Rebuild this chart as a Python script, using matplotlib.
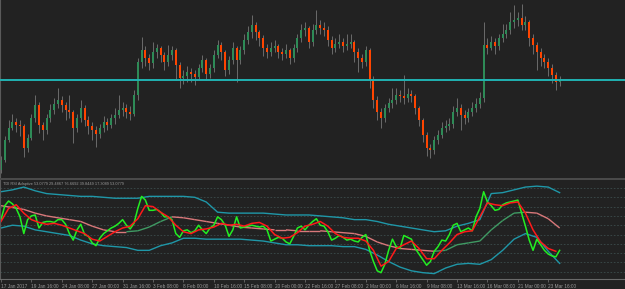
import numpy as np
import matplotlib.pyplot as plt
from matplotlib.collections import LineCollection

# --- price bars (points above 1.0500) ---
close_pts = [20, 40, 52, 58, 55, 54, 32, 42, 62, 75,
             55, 50, 62, 70, 76, 80, 75, 70, 68, 52,
             62, 72, 60, 54, 50, 46, 52, 58, 55, 62,
             65, 70, 72, 68, 66, 85, 118, 130, 122, 117,
             128, 132, 125, 118, 125, 130, 115, 102, 104, 108,
             106, 103, 112, 120, 106, 112, 125, 135, 128, 110,
             120, 132, 120, 130, 140, 148, 155, 148, 142, 132,
             128, 132, 134, 128, 126, 130, 122, 132, 142, 150,
             152, 138, 150, 155, 152, 150, 140, 132, 136, 138,
             134, 136, 138, 128, 122, 118, 130, 100, 80, 68,
             62, 72, 77, 80, 85, 84, 82, 86, 84, 72,
             60, 45, 32, 30, 40, 45, 52, 54, 56, 68,
             72, 65, 62, 68, 72, 76, 82, 135, 132, 138,
             134, 142, 146, 150, 158, 160, 162, 155, 158, 142,
             135, 128, 122, 118, 112, 105, 98, 100]
high_pts = [24, 44, 60, 66, 62, 60, 56, 46, 66, 85,
            78, 58, 66, 76, 82, 92, 84, 78, 85, 70,
            66, 80, 75, 64, 58, 54, 56, 64, 62, 66,
            72, 85, 78, 76, 74, 90, 122, 143, 134, 126,
            138, 136, 134, 128, 135, 134, 132, 118, 110, 114,
            112, 110, 116, 125, 122, 116, 130, 140, 138, 130,
            124, 138, 134, 134, 146, 154, 165, 158, 150, 145,
            136, 138, 140, 136, 132, 136, 132, 136, 146, 156,
            158, 154, 156, 170, 160, 158, 154, 144, 142, 146,
            142, 146, 146, 140, 132, 126, 134, 132, 104, 84,
            72, 76, 82, 92, 92, 90, 105, 92, 90, 86,
            74, 62, 48, 36, 44, 50, 58, 60, 62, 74,
            82, 76, 70, 72, 78, 82, 88, 158, 142, 144,
            142, 146, 156, 156, 168, 175, 168, 176, 164, 160,
            146, 138, 132, 126, 122, 116, 108, 104]
low_pts = [7, 18, 38, 50, 48, 44, 23, 28, 40, 58,
           47, 40, 46, 58, 66, 72, 68, 60, 62, 37,
           48, 58, 54, 46, 40, 33, 42, 48, 50, 52,
           56, 62, 64, 62, 60, 64, 80, 112, 114, 110,
           112, 122, 118, 110, 114, 120, 100, 92, 96, 98,
           98, 95, 100, 108, 100, 102, 108, 122, 120, 104,
           106, 116, 98, 116, 126, 136, 142, 140, 134, 124,
           122, 124, 128, 122, 120, 122, 116, 118, 128, 138,
           144, 132, 134, 146, 146, 144, 134, 126, 128, 132,
           128, 130, 132, 118, 108, 112, 114, 92, 72, 60,
           52, 58, 68, 72, 76, 78, 76, 78, 78, 66,
           54, 38, 24, 22, 26, 36, 42, 48, 50, 52,
           64, 50, 56, 58, 64, 68, 72, 78, 126, 130,
           126, 130, 138, 142, 146, 152, 154, 150, 150, 134,
           126, 110, 114, 112, 104, 97, 90, 94]
first_open_pts = 10
level_line = 1.0600

# --- TDI RSI Adaptive ---
rsi = [56, 71, 76, 73, 68, 59, 41, 56, 60, 61,
       47, 53, 54, 54, 53, 56, 56, 51, 41, 34,
       45, 51, 40, 38, 31, 28, 36, 41, 44, 47,
       49, 52, 56, 50, 46, 52, 68, 81, 77, 66,
       66, 67, 64, 59, 59, 56, 41, 37, 44, 45,
       42, 44, 50, 45, 41, 47, 50, 59, 56, 50,
       38, 45, 59, 47, 48, 49, 50, 49, 48, 49,
       45, 33, 35, 37, 36, 32, 30, 38, 47, 49,
       45, 50, 54, 57, 50, 49, 43, 34, 36, 39,
       37, 34, 35, 33, 32, 37, 40, 23, 11, 1,
       -1, 8, 23, 35, 27, 25, 39, 37, 35, 25,
       19, 13, 7, 11, 22, 27, 34, 33, 40, 50,
       52, 43, 45, 47, 44, 59, 68, 86, 75, 71,
       66, 67, 72, 74, 75, 76, 77, 63, 49, 34,
       23, 35, 29, 23, 19, 17, 16, 23]
signal = [54, 68, 72, 63, 56, 53, 51, 52, 50, 47,
          44, 41, 35, 33, 38, 43, 47, 49, 57, 71,
          70, 64, 59, 50, 43, 41, 45, 46, 48, 52,
          50, 51, 49, 52, 53, 49, 40, 36, 37, 42,
          49, 51, 54, 49, 41, 37, 36, 36, 33, 23,
          6, 11, 25, 29, 33, 25, 14, 14, 23, 31,
          40, 43, 44, 59, 74, 72, 71, 74, 75, 63,
          45, 32, 25, 22]
band_up = [86, 88, 91, 87, 84, 83, 82, 81, 81, 80,
           79, 79, 79, 81, 81, 81, 81, 80, 75, 64,
           63, 63, 63, 63, 62, 61, 61, 61, 60, 59,
           58, 56, 56, 54, 51, 49, 47, 45, 43, 44,
           49, 52, 56, 84, 85, 88, 91, 92, 91, 85]
band_dn = [47, 50, 49, 45, 43, 41, 39, 34, 30, 28,
           27, 26, 23, 23, 28, 31, 36, 36, 35, 35,
           35, 35, 34, 33, 31, 29, 29, 28, 28, 28,
           27, 27, 24, 18, 11, 5, 1, -1, -2, 4,
           8, 9, 8, 13, 23, 35, 41, 37, 22, 9]
band_mid = [71, 69, 67, 63, 60, 58, 56, 54, 49, 45,
            43, 43, 44, 48, 54, 59, 58, 56, 54, 52,
            50, 48, 47, 46, 45, 45, 44, 44, 44, 43,
            42, 41, 38, 32, 28, 25, 24, 23, 22, 23,
            29, 31, 33, 45, 55, 63, 64, 63, 57, 47]
levels = [0, 10, 20, 30, 40, 50, 60, 70, 80, 90]
ind_title = "TDI RSI Adaptive 53.0779 29.4867 76.6692 39.8449 17.3089 53.0779"

time_labels = ["17 Jan 2017", "19 Jan 16:00", "24 Jan 08:00", "27 Jan 00:00",
               "31 Jan 16:00", "3 Feb 08:00", "8 Feb 00:00", "10 Feb 16:00",
               "15 Feb 08:00", "20 Feb 00:00", "22 Feb 16:00", "27 Feb 08:00",
               "2 Mar 00:00", "6 Mar 16:00", "9 Mar 08:00", "13 Mar 16:00",
               "16 Mar 08:00", "21 Mar 00:00", "23 Mar 16:00"]

BG = "#222222"
TXT = "#9a9a9a"
plt.rcParams["font.family"] = ["Liberation Sans", "DejaVu Sans"]

close = 1.05 + np.array(close_pts) / 1e4
high = 1.05 + np.array(high_pts) / 1e4
low = 1.05 + np.array(low_pts) / 1e4
opn = 1.05 + np.array([first_open_pts] + close_pts[:-1]) / 1e4
n = len(close)
x = np.arange(n)

fig = plt.figure(figsize=(6.25, 2.89), dpi=100, facecolor=BG)
H = 289.0
ax = fig.add_axes([0, (H - 178) / H, 1, 178 / H], facecolor=BG)
ax2 = fig.add_axes([0, (H - 279) / H, 1, 99 / H], facecolor=BG)
xlim = (-0.26, 164.2)

# candles
up = close >= opn
ax.vlines(x, low, high, color="#6b6b6b", lw=0.7, zorder=1)
body = np.maximum(np.abs(close - opn), 0.00008)
ax.bar(x[up], body[up], bottom=opn[up], width=0.55, color="#2e8b57", zorder=2)
ax.bar(x[~up], body[~up], bottom=close[~up], width=0.55, color="#ff4500", zorder=2)
ax.axhline(level_line, color="#20b2b2", lw=1.4, zorder=3)
ax.set_xlim(*xlim)
ax.set_ylim(1.0502, 1.0680)
ax.set_xticks([])
ax.set_yticks([])
for s in ax.spines.values():
    s.set_visible(False)
ax.spines["left"].set_visible(True)
ax.spines["left"].set_color("#5a5a5a")

# separator between panels
fig.add_artist(plt.Rectangle((0, (H - 180) / H), 1, 2 / H, transform=fig.transFigure,
                             color="#4a4a4a", lw=0))

# indicator panel
for lv in levels:
    ax2.axhline(lv, color="#3c4c4c", lw=0.6, ls=(0, (2, 2)), zorder=0)
bx = np.arange(0, n, 3)
ax2.plot(bx, band_up, color="#1f97a8", lw=1.0)
ax2.plot(bx, band_dn, color="#1f97a8", lw=1.0)
mid = np.array(band_mid, dtype=float)
segs = [[(bx[i], mid[i]), (bx[i + 1], mid[i + 1])] for i in range(len(bx) - 1)]
cols = ["#3f9a63" if mid[i + 1] > mid[i] else "#d9787a" for i in range(len(bx) - 1)]
ax2.add_collection(LineCollection(segs, colors=cols, linewidths=1.0))
ax2.plot(x, rsi, color="#22ee22", lw=1.1)
ax2.plot(np.arange(0, n, 2), signal, color="#ff1a1a", lw=1.1)
ax2.text(3 / 625, 1 - 4 / 99, ind_title, transform=ax2.transAxes, fontsize=2.8,
         color=TXT, va="center", ha="left")
ax2.set_xlim(*xlim)
ax2.set_ylim(-7.8, 98.6)
ax2.set_yticks([])
ax2.set_xticks(np.arange(0, n, 8))
ax2.set_xticklabels(time_labels)
for lab in ax2.get_xticklabels():
    lab.set_horizontalalignment("left")
ax2.tick_params(axis="x", direction="out", length=2, width=0.6, color="#6a6a6a",
                labelsize=3.4, labelcolor=TXT, pad=1.5)
for s in ax2.spines.values():
    s.set_visible(False)
ax2.spines["bottom"].set_visible(True)
ax2.spines["bottom"].set_color("#6a6a6a")
ax2.spines["left"].set_visible(True)
ax2.spines["left"].set_color("#5a5a5a")

fig.savefig("out.png", dpi=100, facecolor=BG)
